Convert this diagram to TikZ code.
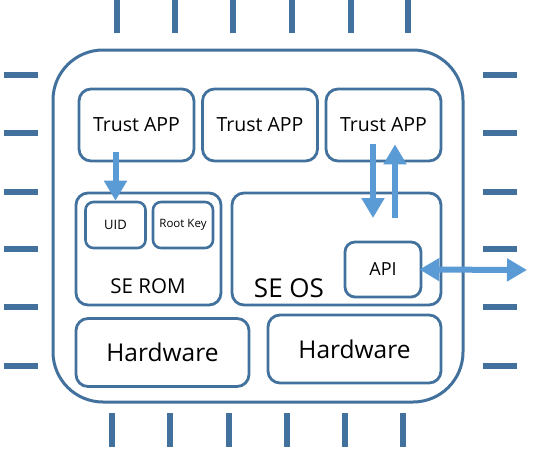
\documentclass[tikz,border=0pt]{standalone}
\usepackage{fontspec}
\setmainfont{Open Sans}
\usepackage{tikz}
\usetikzlibrary{arrows.meta,calc}
\definecolor{chipblue}{HTML}{41719C}
\definecolor{flowblue}{HTML}{5B9BD5}
\tikzstyle{chip}=[rectangle, draw=chipblue, line width=3pt, rounded corners=50pt, minimum width=410pt, minimum height=352pt, inner sep=0pt]
\tikzstyle{app}=[rectangle, draw=chipblue, line width=2.8pt, rounded corners=12pt, minimum width=115pt, minimum height=72pt, inner sep=0pt, font=\fontsize{19.5}{22}\selectfont]
\tikzstyle{part}=[rectangle, draw=chipblue, line width=2.8pt, rounded corners=12pt, inner sep=0pt]
\tikzstyle{cell}=[rectangle, draw=chipblue, line width=2.6pt, rounded corners=8pt, inner sep=0pt, minimum width=60pt, minimum height=46pt]
\tikzstyle{hw}=[rectangle, draw=chipblue, line width=2.8pt, rounded corners=12pt, minimum width=173pt, minimum height=68pt, inner sep=0pt, font=\fontsize{24.5}{28}\selectfont]
\tikzstyle{leg}=[chipblue, line width=6.5pt]
\tikzstyle{flow}=[flowblue, line width=6pt, -{Triangle[width=22pt,length=20pt]}]
\tikzstyle{flowboth}=[flowblue, line width=6pt, {Triangle[width=22pt,length=20pt]}-{Triangle[width=22pt,length=20pt]}]

\begin{document}
\begin{tikzpicture}[x=1pt,y=-1pt]
\useasboundingbox (0,0) rectangle (550,451);

%Chip
\node[chip] (chip) at (258,226){};

%Row One
\node[app] (app1) at (136.5,125){Trust APP};
\node[app] (app2) at (260,125){Trust APP};
\node[app] (app3) at (383.5,125){Trust APP};

%Row Two
\node[part, minimum width=145pt, minimum height=112pt] (serom) at (148.5,249){};
\node[cell, font=\fontsize{13}{15}\selectfont] (uid) at (115.5,225){UID};
\node[cell, font=\fontsize{11.5}{13}\selectfont] (rootkey) at (183,225){Root Key};
\node[font=\fontsize{20.5}{24}\selectfont] (romname) at (148,286){SE ROM};
\node[part, minimum width=209pt, minimum height=112pt] (seos) at (336.5,249){};
\node[part, rounded corners=10pt, minimum width=76pt, minimum height=55pt, font=\fontsize{18}{20}\selectfont] (api) at (383,269.5){API};
\node[font=\fontsize{26}{30}\selectfont] (osname) at (289,288){SE OS};

%Row Three
\node[hw] (hw1) at (162.5,352.5){Hardware};
\node[hw] (hw2) at (354.5,349){Hardware};

%pins top
\draw[leg] (117,0) -- (117,33);
\draw[leg] (175,0) -- (175,33);
\draw[leg] (233,0) -- (233,33);
\draw[leg] (292,0) -- (292,33);
\draw[leg] (351,0) -- (351,33);
\draw[leg] (408,0) -- (408,33);
%pins bottom
\draw[leg] (112,413) -- (112,447);
\draw[leg] (170,413) -- (170,447);
\draw[leg] (229,413) -- (229,447);
\draw[leg] (287,413) -- (287,447);
\draw[leg] (345,413) -- (345,447);
\draw[leg] (403,413) -- (403,447);
%pins left
\draw[leg] (4,75) -- (38,75);
\draw[leg] (4,133) -- (38,133);
\draw[leg] (4,192) -- (38,192);
\draw[leg] (4,249) -- (38,249);
\draw[leg] (4,307) -- (38,307);
\draw[leg] (4,366) -- (38,366);
%pins right
\draw[leg] (483,75) -- (517,75);
\draw[leg] (483,133) -- (517,133);
\draw[leg] (483,192) -- (517,192);
\draw[leg] (483,249) -- (517,249);
\draw[leg] (483,307) -- (517,307);
\draw[leg] (483,366) -- (517,366);

%arrows
\coordinate (osdown) at (373,218);
\coordinate (osup) at (395,218);
\coordinate (outside) at (527,270);
\draw[flow] ($(uid.north |- app1.south)+(0,-10)$) -- (uid.north);
\draw[flow] ([xshift=-10.5pt,yshift=18pt]app3.south) -- (osdown);
\draw[flow] (osup) -- ([xshift=11.5pt,yshift=18pt]app3.south);
\draw[flowboth] ([xshift=-3pt]api.east) -- (outside);

\end{tikzpicture}
\end{document}
